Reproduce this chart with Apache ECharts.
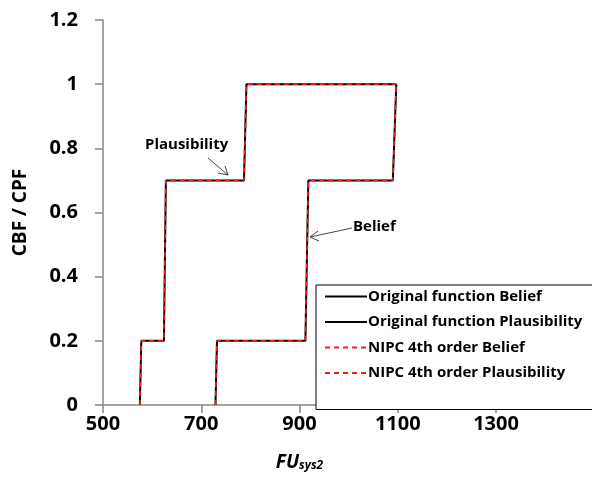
<!DOCTYPE html>
<html><head><meta charset="utf-8">
<script src="https://cdn.jsdelivr.net/npm/echarts@6/dist/echarts.min.js"></script>
<style>html,body{margin:0;padding:0;background:#fff}#c{width:592px;height:490px}</style>
</head><body><div id="c"></div>
<script>
// Data
const plausX = [575, 578, 624, 628, 787, 792, 1097];
const plausY = [0, 0.2, 0.2, 0.7, 0.7, 1, 1];
const beliefX = [729, 732, 912, 918, 1090, 1097];
const beliefY = [0, 0.2, 0.2, 0.7, 0.7, 1];
const xTicks = [500, 700, 900, 1100, 1300];
const yTicks = [0, 0.2, 0.4, 0.6, 0.8, 1, 1.2];
const seriesNames = ['Original function Belief', 'Original function Plausibility', 'NIPC 4th order Belief', 'NIPC 4th order Plausibility'];

const zip = (xs, ys) => xs.map((x, i) => [x, ys[i]]);
const FONT = '"Open Sans"';

const chart = echarts.init(document.getElementById('c'));
const solid = {color: '#000', width: 2, type: 'solid'};
const dashed = {color: '#ff1a1a', width: 1.6, type: [5, 4]};
function mk(name, data, ls, z) {
  return {name, type: 'line', data, symbol: 'none', showSymbol: false, lineStyle: ls, itemStyle: {color: ls.color}, z, animation: false, silent: true};
}
chart.setOption({
  animation: false,
  grid: {left: 103, top: 20, right: 96, bottom: 85},
  xAxis: {
    type: 'value', min: xTicks[0], max: xTicks[xTicks.length - 1], interval: 200,
    axisLine: {show: true, lineStyle: {color: '#868686', width: 1.5}},
    axisTick: {show: true, length: 8, lineStyle: {color: '#868686', width: 1.5}},
    splitLine: {show: false},
    axisLabel: {margin: 9, color: '#000', fontFamily: FONT, fontWeight: 'bold', fontSize: 20, formatter: v => String(v)},
    name: '{a|FU}{b|sys2}', nameLocation: 'middle', nameGap: 46,
    nameTextStyle: {rich: {
      a: {fontFamily: FONT, fontWeight: 'bold', fontStyle: 'italic', fontSize: 19, color: '#000', verticalAlign: 'bottom'},
      b: {fontFamily: FONT, fontWeight: 'bold', fontStyle: 'italic', fontSize: 12, color: '#000', padding: [9, 0, 0, 0], verticalAlign: 'bottom'}
    }}
  },
  yAxis: {
    type: 'value', min: yTicks[0], max: yTicks[yTicks.length - 1], interval: 0.2,
    axisLine: {show: true, lineStyle: {color: '#868686', width: 1.5}},
    axisTick: {show: true, length: 8, lineStyle: {color: '#868686', width: 1.5}},
    splitLine: {show: false},
    axisLabel: {margin: 25, color: '#000', fontFamily: FONT, fontWeight: 'bold', fontSize: 20},
    name: 'CBF / CPF', nameLocation: 'middle', nameGap: 73, nameRotate: 90,
    nameTextStyle: {fontFamily: FONT, fontWeight: 'bold', fontSize: 19, color: '#000'}
  },
  legend: {
    orient: 'vertical', left: 316, top: 285,
    data: seriesNames,
    backgroundColor: '#fff', borderColor: '#000', borderWidth: 1,
    padding: [4, 40, 29, 8],
    itemWidth: 42, itemHeight: 16, itemGap: 10.5,
    itemStyle: {opacity: 0},
    textStyle: {fontFamily: FONT, fontWeight: 'bold', fontSize: 15, color: '#000', padding: [0, 0, 0, -4]}
  },
  graphic: [
    {type: 'text', x: 145, y: 145, style: {text: 'Plausibility', fontFamily: FONT, fontWeight: 'bold', fontSize: 15, fill: '#000', verticalAlign: 'middle'}},
    {type: 'line', shape: {x1: 208, y1: 158, x2: 228, y2: 175}, style: {stroke: '#404040', lineWidth: 1}},
    {type: 'polyline', shape: {points: [[218, 173], [228, 175], [225, 166]]}, style: {stroke: '#404040', lineWidth: 1, fill: null}},
    {type: 'text', x: 353, y: 227, style: {text: 'Belief', fontFamily: FONT, fontWeight: 'bold', fontSize: 15, fill: '#000', verticalAlign: 'middle'}},
    {type: 'line', shape: {x1: 352, y1: 228, x2: 310, y2: 237}, style: {stroke: '#404040', lineWidth: 1}},
    {type: 'polyline', shape: {points: [[318, 231], [310, 237], [319, 241]]}, style: {stroke: '#404040', lineWidth: 1, fill: null}}
  ],
  series: [
    mk(seriesNames[0], zip(beliefX, beliefY), solid, 2),
    mk(seriesNames[1], zip(plausX, plausY), solid, 2),
    mk(seriesNames[2], zip(beliefX, beliefY), dashed, 3),
    mk(seriesNames[3], zip(plausX, plausY), dashed, 3)
  ]
});
</script></body></html>
